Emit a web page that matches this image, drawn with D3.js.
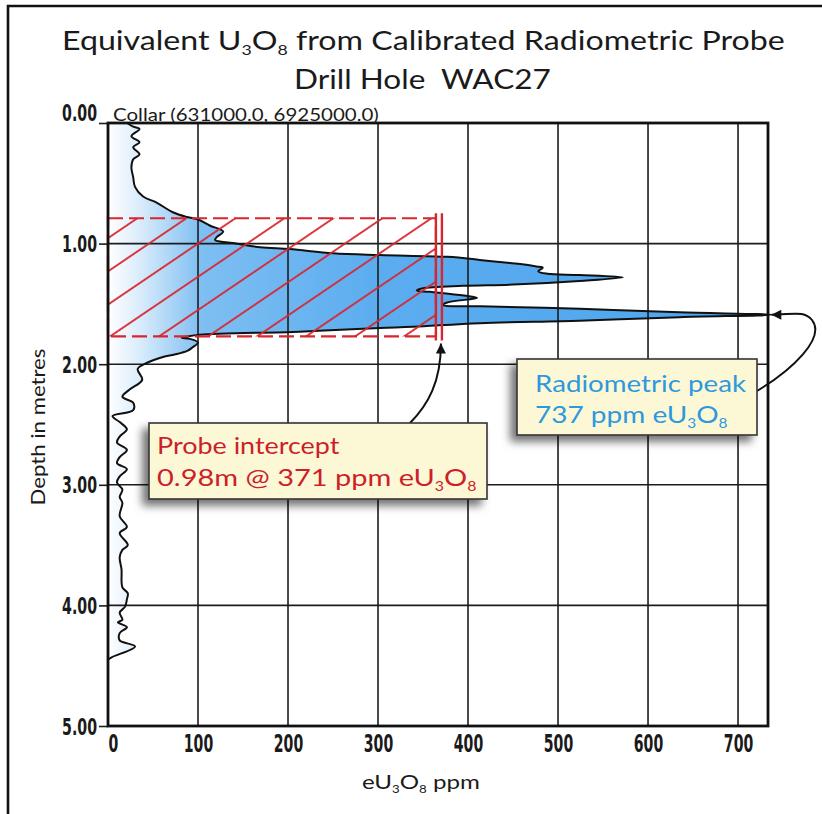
<!DOCTYPE html>
<html><head><meta charset="utf-8">
<script src="https://cdn.jsdelivr.net/npm/d3@7/dist/d3.min.js"></script>
<style>html,body{margin:0;padding:0;background:#fff;overflow:hidden}</style>
</head><body>
<svg id="c" width="822" height="814"></svg>
<script>
// ---- data ----
const depthM = [0.00,0.03,0.05,0.11,0.16,0.20,0.26,0.30,0.37,0.45,0.53,0.61,0.66,0.74,0.78,0.80,0.85,0.90,0.945,0.97,0.995,1.03,1.045,1.08,1.095,1.11,1.135,1.15,1.17,1.19,1.20,1.23,1.25,1.26,1.28,1.31,1.34,1.35,1.37,1.39,1.40,1.44,1.45,1.49,1.51,1.52,1.54,1.57,1.59,1.61,1.64,1.66,1.69,1.70,1.73,1.755,1.77,1.78,1.79,1.82,1.86,1.89,1.92,1.94,1.99,2.04,2.13,2.21,2.27,2.32,2.38,2.43,2.48,2.54,2.60,2.65,2.71,2.77,2.82,2.87,2.93,2.98,3.04,3.10,3.15,3.26,3.35,3.40,3.50,3.54,3.60,3.70,3.85,3.90,3.95,4.01,4.06,4.12,4.14,4.18,4.23,4.29,4.34,4.43,4.45];
const ppmValue = [21,28,35,26,35,28,35,28,26,28,30,39,54,72,88,100,113,128,121,119,139,169,202,250,302,377,413,432,458,476,483,478,488,524,572,524,450,394,350,343,358,405,410,376,372,413,524,635,737,635,524,413,339,302,213,102,88,82,91,100,94,88,74,61,43,33,38,24,16,28,28,5,13,21,13,10,21,13,10,21,13,10,16,13,16,13,21,13,22,16,13,15,16,22,21,19,13,16,11,21,13,13,30,4,0];
const xTickValues = [0,100,200,300,400,500,600,700];
const yTickValues = [0,1,2,3,4,5];
const interceptTop = 0.79, interceptBottom = 1.77, interceptGrade = 371;
const peakDepth = 1.59, peakPpm = 737;
const titleLines = ["Equivalent U_3O_8 from Calibrated Radiometric Probe", "Drill Hole  WAC27"];
const collarLabel = "Collar (631000.0, 6925000.0)";
const yAxisTitle = "Depth in metres";
const xAxisTitle = "eU_3O_8 ppm";
const probeText = ["Probe intercept", "0.98m @ 371 ppm eU_3O_8"];
const peakText = ["Radiometric peak", "737 ppm eU_3O_8"];

// ---- setup ----
const svg = d3.select('#c');
const x = d3.scaleLinear().domain([0, 733.3]).range([108, 768]);
const y = d3.scaleLinear().domain([0, 5]).range([123, 726]);
const pts = depthM.map((d, i) => ({d, v: ppmValue[i]}));
const SANS = "Lato, 'Open Sans', sans-serif";
const NARROW = "'Liberation Sans Narrow', 'DejaVu Sans Condensed', 'Liberation Sans', sans-serif";

const defs = svg.append('defs');
const grad = defs.append('linearGradient').attr('id', 'fillg')
  .attr('gradientUnits', 'userSpaceOnUse').attr('x1', x(0)).attr('x2', x(733)).attr('y1', 0).attr('y2', 0);
[[0, '#ffffff'], [0.05, '#d8ebfb'], [0.14, '#7fbff2'], [0.4, '#5cadf0'], [1, '#4ea4ec']]
  .forEach(([o, c]) => grad.append('stop').attr('offset', o).attr('stop-color', c));
defs.append('clipPath').attr('id', 'plotclip').append('rect')
  .attr('x', x(0)).attr('y', y(0)).attr('width', 664).attr('height', y(5) - y(0));
const sh = defs.append('filter').attr('id', 'shadow').attr('x', '-20%').attr('y', '-20%').attr('width', '140%').attr('height', '150%');
sh.append('feDropShadow').attr('dx', -6).attr('dy', 6).attr('stdDeviation', 4).attr('flood-color', '#000').attr('flood-opacity', 0.55);
const mk = defs.append('marker').attr('id', 'ah').attr('viewBox', '0 0 10 10').attr('refX', 10).attr('refY', 5)
  .attr('markerWidth', 13).attr('markerHeight', 10).attr('markerUnits', 'userSpaceOnUse').attr('orient', 'auto');
mk.append('path').attr('d', 'M0,0 L10,5 L0,10 Z').attr('fill', '#111');

// hatch pattern
const hatchW = 27.5, hatchAng = 90 - Math.atan2(120, 177) * 180 / Math.PI;
const th = hatchAng * Math.PI / 180;
const hx0 = x(0) + 2 - (hatchW / 2) * Math.cos(th), hy0 = y(interceptBottom) - (hatchW / 2) * Math.sin(th);
const pat = defs.append('pattern').attr('id', 'hatch').attr('patternUnits', 'userSpaceOnUse')
  .attr('width', hatchW).attr('height', 40)
  .attr('patternTransform', `translate(${hx0},${hy0}) rotate(${hatchAng})`);
pat.append('line').attr('x1', hatchW / 2).attr('x2', hatchW / 2).attr('y1', -5).attr('y2', 45)
  .attr('stroke', '#d8262f').attr('stroke-width', 1.8);

// text helper: "U_3O_8" -> subscripts
function addRich(t, str, size) {
  const parts = str.split(/(_\d)/);
  let sub = false;
  parts.forEach(p => {
    if (!p) return;
    if (p[0] === '_') {
      t.append('tspan').attr('font-size', size * 0.55).attr('dy', size * 0.2).text(p.slice(1));
      sub = true;
    } else {
      const ts = t.append('tspan').text(p);
      if (sub) { ts.attr('dy', -size * 0.2); sub = false; }
    }
  });
}
function fitText(parent, o) {
  const g = parent.append('g').attr('transform', `translate(${o.x},${o.y})` + (o.rotate ? ` rotate(${o.rotate})` : ''));
  const t = g.append('text').attr('x', 0).attr('y', 0).attr('text-anchor', o.anchor || 'start')
    .attr('font-family', o.family || SANS).attr('font-size', o.size).attr('fill', o.fill || '#1a1a1a')
    .attr('font-weight', o.weight || 'normal').style('white-space', 'pre');
  addRich(t, o.text, o.size);
  const w = t.node().getBBox().width;
  if (o.width && w > 0) t.attr('transform', `scale(${o.width / w},1)`);
  return t;
}

// ---- frame ----
svg.append('path').attr('d', 'M8,814 V6 H822').attr('fill', 'none').attr('stroke', '#111').attr('stroke-width', 2.6);

// ---- title ----
fitText(svg, {x: 62, y: 50, size: 26, text: titleLines[0], width: 723});
fitText(svg, {x: 294, y: 89, size: 26, text: titleLines[1], width: 257});

// ---- curve area ----
const plot = svg.append('g');
const areaGen = d3.area().curve(d3.curveCatmullRom.alpha(0.5))
  .y(d => y(d.d)).x0(x(0)).x1(d => x(d.v));
plot.append('path').datum(pts).attr('d', areaGen).attr('fill', 'url(#fillg)').attr('clip-path', 'url(#plotclip)');

// grid
const grid = svg.append('g').attr('stroke', '#1c1c1c').attr('stroke-width', 1.6);
grid.selectAll('.vx').data(xTickValues.filter(v => v > 0)).join('line')
  .attr('x1', d => x(d)).attr('x2', d => x(d)).attr('y1', y(0)).attr('y2', y(5));
grid.selectAll('.hy').data(yTickValues.filter(v => v > 0 && v < 5)).join('line')
  .attr('x1', x(0)).attr('x2', x(733.3)).attr('y1', d => y(d)).attr('y2', d => y(d));

// curve line
const lineGen = d3.line().curve(d3.curveCatmullRom.alpha(0.5)).y(d => y(d.d)).x(d => x(d.v));
svg.append('path').datum(pts).attr('d', lineGen).attr('fill', 'none').attr('stroke', '#111')
  .attr('stroke-width', 2).attr('stroke-linejoin', 'round').attr('clip-path', 'url(#plotclip)');

// ---- probe intercept ----
const rx0 = x(0), rx1 = x(interceptGrade) - 6, ry0 = y(interceptTop), ry1 = y(interceptBottom);
svg.append('rect').attr('x', rx0).attr('y', ry0).attr('width', rx1 - rx0).attr('height', ry1 - ry0)
  .attr('fill', 'url(#hatch)');
svg.append('rect').attr('x', rx0).attr('y', ry0).attr('width', rx1 - rx0).attr('height', ry1 - ry0)
  .attr('fill', 'none').attr('stroke', '#d8262f').attr('stroke-width', 2.2).attr('stroke-dasharray', '15 6');
[rx1, x(interceptGrade)].forEach(xx => svg.append('line').attr('x1', xx).attr('x2', xx)
  .attr('y1', ry0 - 5).attr('y2', ry1 + 4).attr('stroke', '#d8262f').attr('stroke-width', 2.4));

// ---- axes ----
const yAxis = svg.append('g').attr('transform', `translate(${x(0)},0)`)
  .call(d3.axisLeft(y).tickValues(yTickValues).tickFormat(d3.format('.2f')).tickSize(9).tickPadding(11));
yAxis.select('.domain').remove();
yAxis.selectAll('.tick line').attr('stroke', '#1c1c1c').attr('stroke-width', 1.6);
yAxis.selectAll('.tick text').each(function (d) {
  const t = d3.select(this);
  t.attr('dy', null).attr('x', 0).attr('y', 0).attr('font-family', NARROW).attr('font-size', 23)
    .attr('font-weight', 'bold').attr('fill', '#1a1a1a').attr('text-anchor', 'end');
  const w = this.getBBox().width;
  t.attr('transform', `translate(-11,${d === 0 ? -3 : 8}) scale(${35 / w},1)`);
});
const xAxis = svg.append('g').attr('transform', `translate(0,${y(5)})`)
  .call(d3.axisBottom(x).tickValues(xTickValues).tickFormat(d3.format('d')).tickSize(0));
xAxis.select('.domain').remove();
xAxis.selectAll('.tick text').each(function (d) {
  const t = d3.select(this);
  t.attr('dy', null).attr('x', 0).attr('y', 0).attr('font-family', NARROW).attr('font-size', 25)
    .attr('font-weight', 'bold').attr('fill', '#1a1a1a').attr('text-anchor', 'middle');
  const w = this.getBBox().width;
  const tw = String(d).length * 9.8;
  t.attr('transform', `translate(${d === 0 ? 5 : 0},26) scale(${tw / w},1)`);
});

// plot border
svg.append('rect').attr('x', x(0)).attr('y', y(0)).attr('width', x(733.3) - x(0)).attr('height', y(5) - y(0))
  .attr('fill', 'none').attr('stroke', '#111').attr('stroke-width', 2.8);

// collar + axis titles
fitText(svg, {x: 113, y: 121, size: 17, text: collarLabel, width: 266});
fitText(svg, {x: 45, y: 427, size: 20, text: yAxisTitle, width: 157, anchor: 'middle', rotate: -90});
fitText(svg, {x: 362, y: 789, size: 20, text: xAxisTitle, width: 118});

// ---- arrows ----
svg.append('path').attr('d', `M410,423 C428,405 ${x(interceptGrade) - 1},382 ${x(interceptGrade) - 1},${ry1 + 7}`)
  .attr('fill', 'none').attr('stroke', '#111').attr('stroke-width', 2).attr('marker-end', 'url(#ah)');
svg.append('path').attr('d', `M757,391 C792,370 826,338 812,320 C804,310 792,${y(peakDepth)} ${x(peakPpm)},${y(peakDepth)}`)
  .attr('fill', 'none').attr('stroke', '#111').attr('stroke-width', 2).attr('marker-end', 'url(#ah)');

// ---- annotation boxes ----
function box(x0, y0, x1, y1) {
  svg.append('rect').attr('x', x0).attr('y', y0).attr('width', x1 - x0).attr('height', y1 - y0)
    .attr('fill', '#fcf8d6').attr('stroke', '#333').attr('stroke-width', 1.6).attr('filter', 'url(#shadow)');
}
box(149, 423, 487, 499);
fitText(svg, {x: 157, y: 454, size: 24, text: probeText[0], width: 183, fill: '#cc1f2b'});
fitText(svg, {x: 157, y: 486, size: 24, text: probeText[1], width: 320, fill: '#cc1f2b'});
box(517, 359, 757, 435);
fitText(svg, {x: 535, y: 392, size: 24, text: peakText[0], width: 212, fill: '#2e98de'});
fitText(svg, {x: 535, y: 423, size: 24, text: peakText[1], width: 193, fill: '#2e98de'});
</script>
</body></html>
